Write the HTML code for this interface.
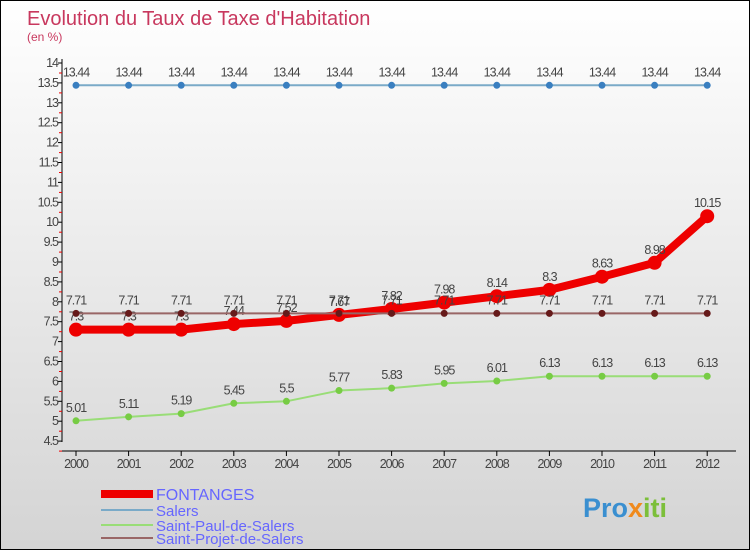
<!DOCTYPE html>
<html><head><meta charset="utf-8"><style>
body{margin:0}
#c{width:748px;height:548px;border:1px solid #000;background:linear-gradient(#fff,#d4d4d4);position:relative;font-family:"Liberation Sans",sans-serif;overflow:hidden}
</style></head><body>
<div id="c">
<svg id="s" width="748" height="548" xmlns="http://www.w3.org/2000/svg">
<text x="26" y="24" font-size="20" fill="#c8385e">Evolution du Taux de Taxe d'Habitation</text>
<text x="26" y="40" font-size="12" fill="#c8385e">(en %)</text>
<g id="g"></g>
<g>
<rect x="100" y="489" width="52" height="8" fill="#e00"/>
<text x="155" y="499" font-size="16" fill="#66f">FONTANGES</text>
<rect x="100" y="508" width="52" height="2" fill="#7aaac8"/>
<text x="155" y="515" font-size="15" fill="#66f">Salers</text>
<rect x="100" y="523" width="52" height="2" fill="#99dd77"/>
<text x="155" y="530" font-size="15" fill="#66f">Saint-Paul-de-Salers</text>
<rect x="100" y="536" width="52" height="2" fill="#996666"/>
<text x="155" y="543" font-size="15" fill="#66f">Saint-Projet-de-Salers</text>
</g>
<text x="582" y="516" font-size="27" font-weight="bold"><tspan fill="#3a8fd0">Pro</tspan><tspan fill="#f08a1c">x</tspan><tspan fill="#7cbf3a">iti</tspan></text>
</svg>
</div>
<script>
const years=[2000,2001,2002,2003,2004,2005,2006,2007,2008,2009,2010,2011,2012];
const fontanges=[7.3,7.3,7.3,7.44,7.52,7.67,7.82,7.98,8.14,8.3,8.63,8.98,10.15];
const salers=[13.44,13.44,13.44,13.44,13.44,13.44,13.44,13.44,13.44,13.44,13.44,13.44,13.44];
const saintPaul=[5.01,5.11,5.19,5.45,5.5,5.77,5.83,5.95,6.01,6.13,6.13,6.13,6.13];
const saintProjet=[7.71,7.71,7.71,7.71,7.71,7.71,7.71,7.71,7.71,7.71,7.71,7.71,7.71];
const yTicks=[4.5,5,5.5,6,6.5,7,7.5,8,8.5,9,9.5,10,10.5,11,11.5,12,12.5,13,13.5,14];
const NS="http://www.w3.org/2000/svg";
const g=document.getElementById('g');
const xs=i=>75+i*52.6;
const ys=v=>62+(14-v)*39.8;
function mk(t,a,p){const e=document.createElementNS(NS,t);for(const k in a)e.setAttribute(k,a[k]);(p||g).appendChild(e);return e;}
let ax=mk('line',{x1:61,y1:58,x2:61,y2:441,stroke:'#000','stroke-width':1});


let xa=mk('line',{x1:61,y1:450,x2:735,y2:450,stroke:'#000','stroke-width':1});


yTicks.forEach(v=>{const y=ys(v);
mk('line',{x1:57,y1:y,x2:61,y2:y,stroke:'#000'});
mk('line',{x1:58,y1:y+10,x2:61,y2:y+10,stroke:'#e00'});
const t=mk('text',{x:57,y:y+4,'font-size':12.5,'text-anchor':'end',fill:'#444','letter-spacing':'-1'});t.textContent=v;

});
years.forEach((yr,i)=>{const x=xs(i);
mk('line',{x1:x,y1:450,x2:x,y2:455,stroke:'#000'});
const t=mk('text',{x:x,y:467,'font-size':12.5,'text-anchor':'middle',fill:'#444','letter-spacing':'-1'});t.textContent=yr;

});
function series(data,color,lw,r,dot,name){
const l=mk('polyline',{points:data.map((v,i)=>xs(i)+','+ys(v)).join(' '),fill:'none',stroke:color,'stroke-width':lw,'stroke-linejoin':'round'});


data.forEach((v,i)=>{const c=mk('circle',{cx:xs(i),cy:ys(v),r:r,fill:dot});


const t=mk('text',{x:xs(i),y:ys(v)-9,'font-size':12.5,'text-anchor':'middle',fill:'#444','letter-spacing':'-1'});t.textContent=v;

});}
series(salers,'#7aaac8',2,3.5,'#3a7fc0','salers');
series(saintPaul,'#99dd77',2,3.5,'#77cc44','saint-paul');
series(fontanges,'#e00',8,7,'#e00','fontanges');
series(saintProjet,'#996666',2,3.5,'#661a1a','saint-projet');
</script>
</body></html>
